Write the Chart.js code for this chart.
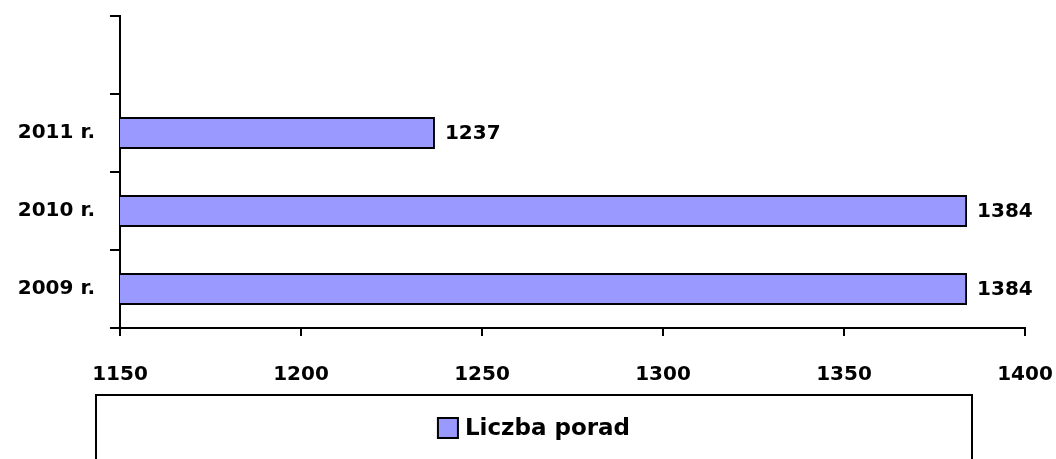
<!DOCTYPE html>
<html>
<head>
<meta charset="utf-8">
<script src="https://cdn.jsdelivr.net/npm/chart.js@4/dist/chart.umd.min.js"></script>
<style>
  html, body { margin: 0; padding: 0; background: #fff; }
  #wrap { width: 1056px; height: 459px; }
</style>
</head>
<body>
<div id="wrap"><canvas id="poradyChart" width="1056" height="459"></canvas></div>
<script>
// dane z wykresu
const categories = ['2009 r.', '2010 r.', '2011 r.', ''];
const porady = [1384, 1384, 1237, null];
const seriesName = 'Liczba porad';
const xMin = 1150;
const xMax = 1400;
const xStep = 50;

const FONT = "'DejaVu Sans', sans-serif";
const BAR_FILL = '#9999ff';

// etykiety wartości przy końcach słupków
const valueLabels = {
    id: 'valueLabels',
    afterDatasetsDraw(chart) {
        const ctx = chart.ctx;
        const meta = chart.getDatasetMeta(0);
        ctx.save();
        ctx.font = 'bold 20px ' + FONT;
        ctx.fillStyle = '#000';
        ctx.textAlign = 'left';
        ctx.textBaseline = 'middle';
        meta.data.forEach((bar, i) => {
            const v = chart.data.datasets[0].data[i];
            if (v == null) return;
            ctx.fillText(String(v), bar.x + 10, bar.y + 1);
        });
        ctx.restore();
    }
};

// legenda w ramce pod osią
const boxedLegend = {
    id: 'boxedLegend',
    afterDraw(chart) {
        const ctx = chart.ctx;
        const ds = chart.data.datasets[0];
        const left = 96, right = 972, top = 395;
        ctx.save();
        ctx.strokeStyle = '#000';
        ctx.lineWidth = 2;
        ctx.strokeRect(left, top, right - left, 100);

        ctx.font = 'bold 23px ' + FONT;
        const textW = ctx.measureText(ds.label).width;
        const box = 20, gap = 7;
        const total = box + gap + textW;
        const x0 = (left + right) / 2 - total / 2;
        const cy = 428;
        ctx.fillStyle = ds.backgroundColor;
        ctx.fillRect(x0, cy - box / 2, box, box);
        ctx.lineWidth = 2;
        ctx.strokeRect(x0, cy - box / 2, box, box);
        ctx.fillStyle = '#000';
        ctx.textBaseline = 'middle';
        ctx.fillText(ds.label, x0 + box + gap, cy + 1);
        ctx.restore();
    }
};

const ctx = document.getElementById('poradyChart').getContext('2d');
new Chart(ctx, {
    type: 'bar',
    data: {
        labels: categories,
        datasets: [{
            label: seriesName,
            data: porady,
            backgroundColor: BAR_FILL,
            borderColor: '#000',
            borderWidth: 2,
            borderSkipped: false,
            categoryPercentage: 1,
            barPercentage: 0.41
        }]
    },
    options: {
        indexAxis: 'y',
        responsive: false,
        animation: false,
        layout: { padding: { top: 16, right: 31, left: 0, bottom: 0 } },
        plugins: {
            legend: { display: false },
            tooltip: { enabled: false }
        },
        scales: {
            x: {
                min: xMin,
                max: xMax,
                afterFit: s => { s.height = 131; s.paddingLeft = 0; s.paddingRight = 0; },
                ticks: {
                    stepSize: xStep,
                    color: '#000',
                    font: { family: FONT, size: 20, weight: 'bold' },
                    padding: 27,
                    maxRotation: 0,
                    callback: v => String(v)
                },
                grid: {
                    drawOnChartArea: false,
                    color: '#000',
                    lineWidth: 2,
                    tickLength: 8
                },
                border: { color: '#000', width: 2 }
            },
            y: {
                reverse: true,
                afterFit: s => { s.width = 120; s.paddingTop = 0; s.paddingBottom = 0; },
                ticks: {
                    color: '#000',
                    font: { family: FONT, size: 20, weight: 'bold' },
                    padding: 15
                },
                grid: {
                    drawOnChartArea: false,
                    offset: true,
                    color: '#000',
                    lineWidth: 2,
                    tickLength: 10
                },
                border: { color: '#000', width: 2 }
            }
        }
    },
    plugins: [valueLabels, boxedLegend]
});
</script>
</body>
</html>
